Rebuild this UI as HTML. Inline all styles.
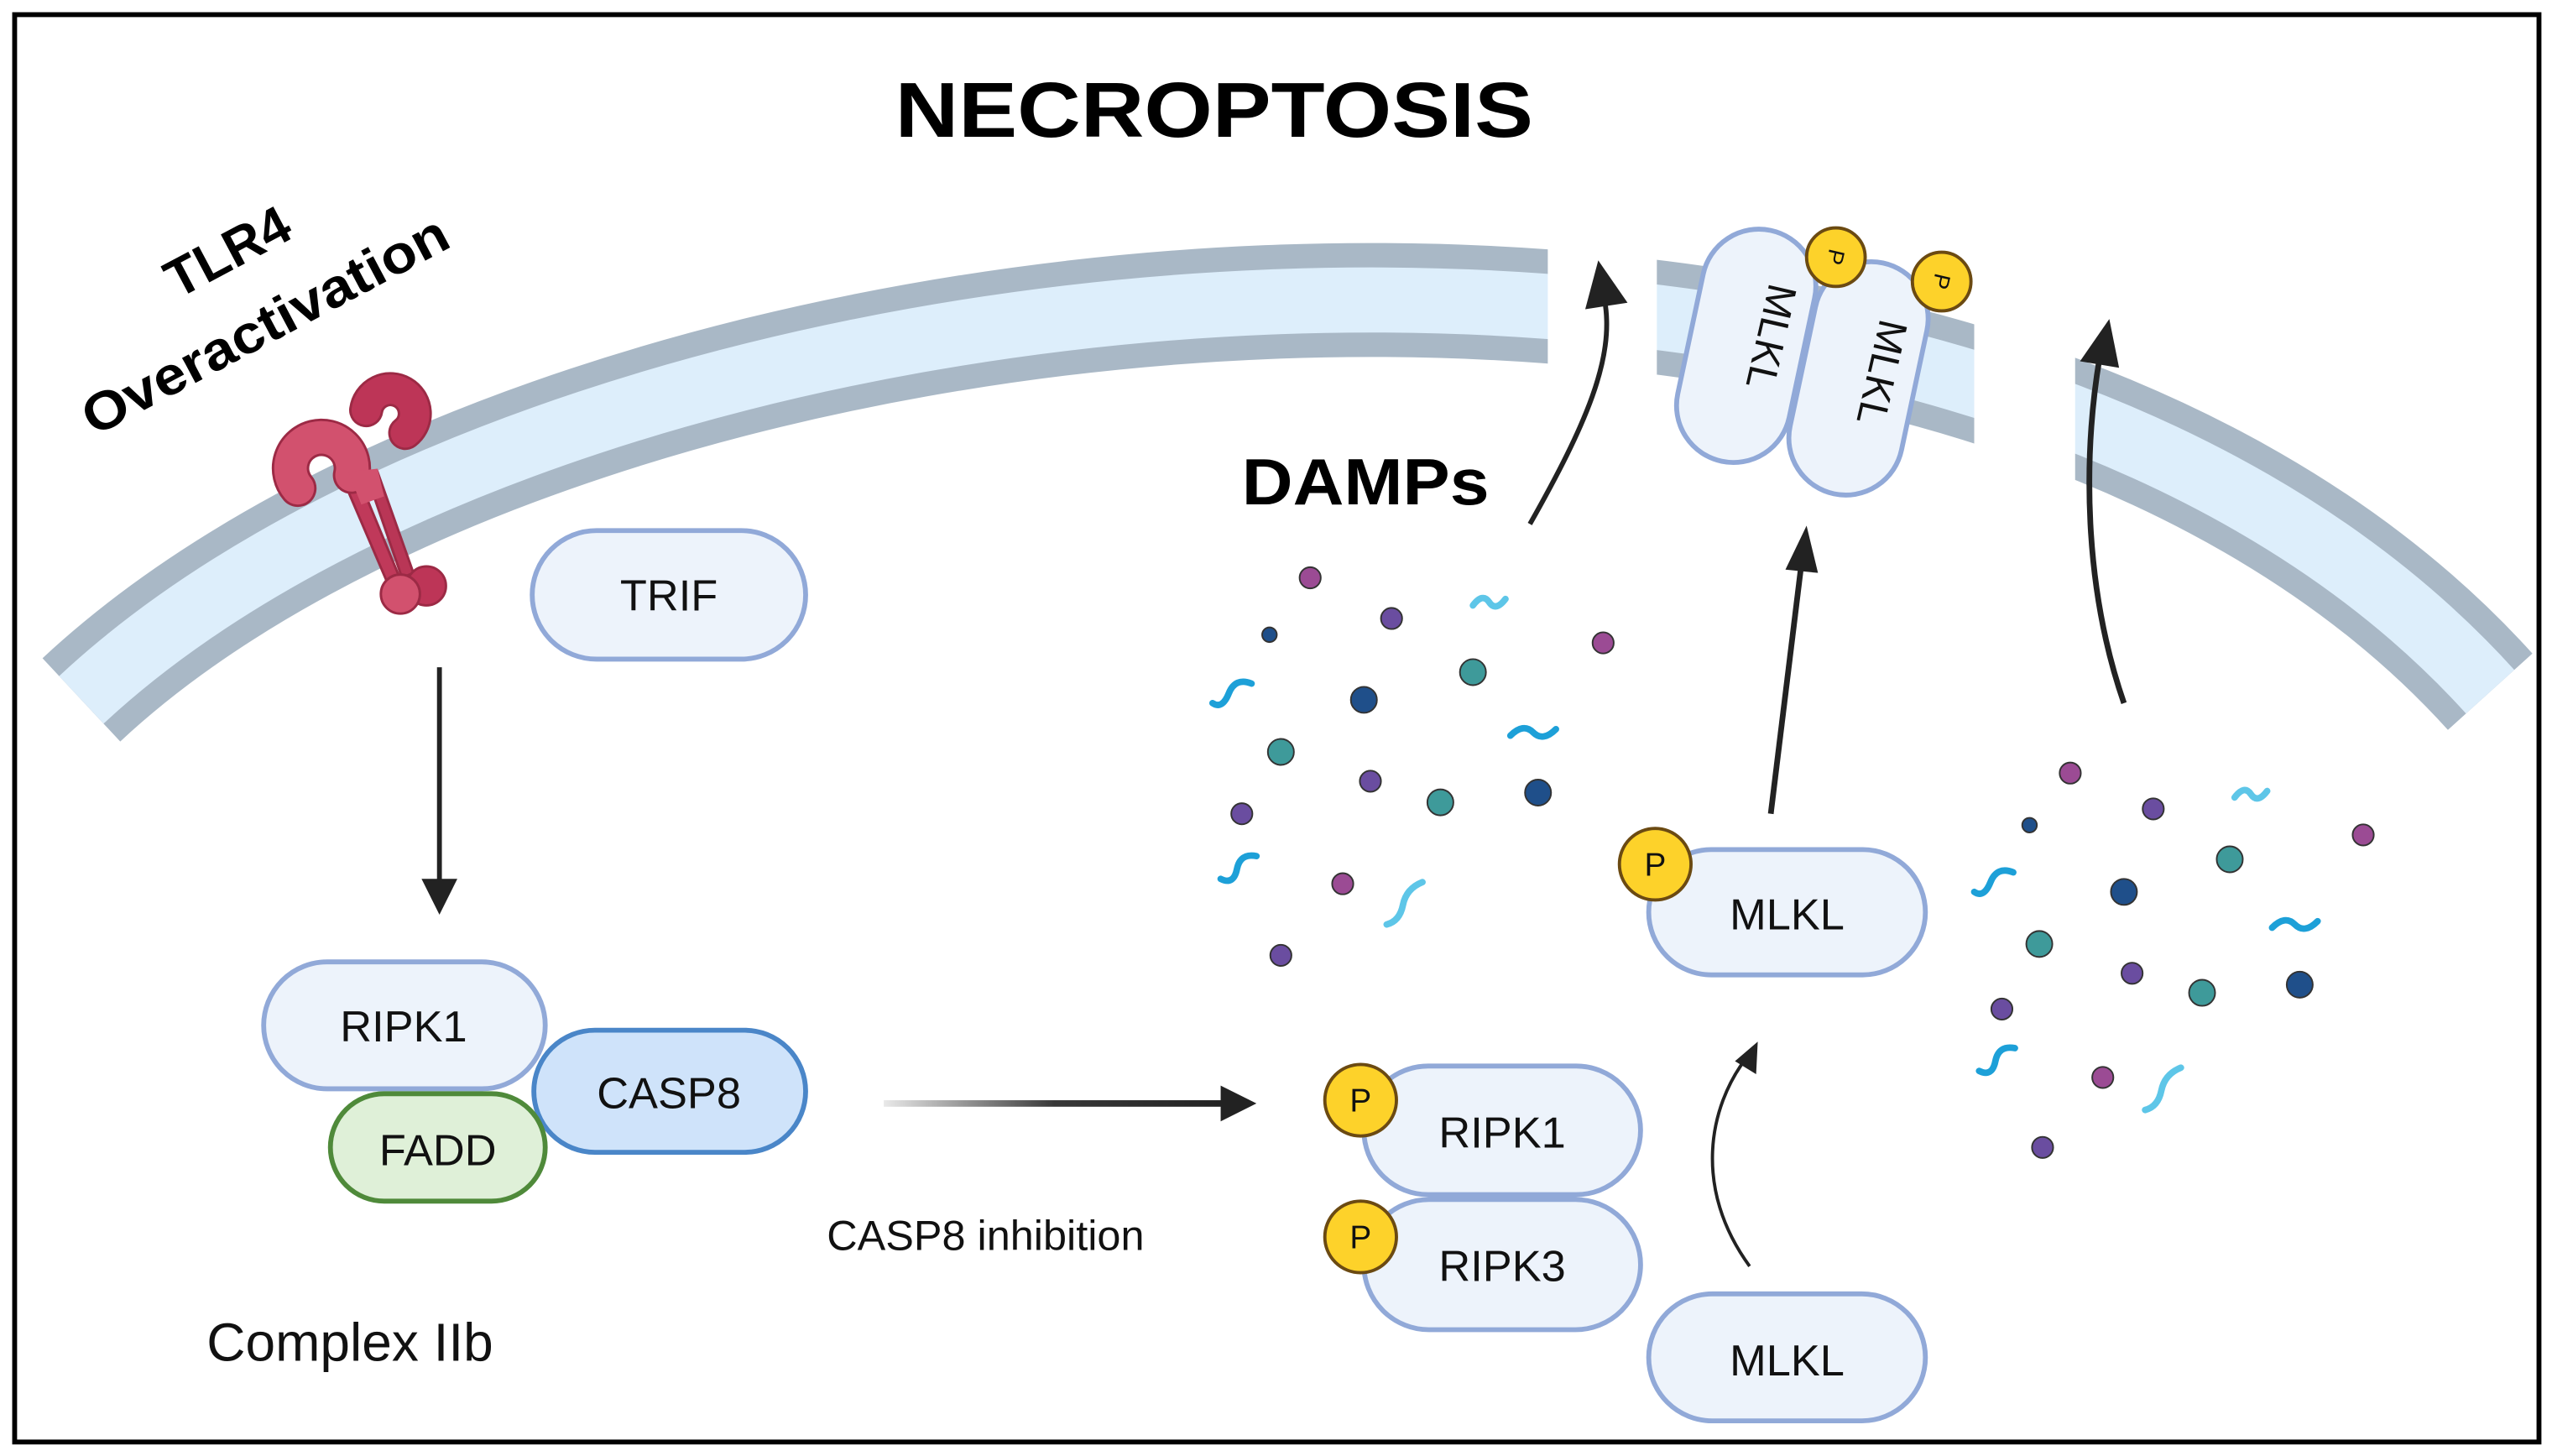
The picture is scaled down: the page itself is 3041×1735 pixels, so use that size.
<!DOCTYPE html>
<html><head><meta charset="utf-8"><style>
html,body{margin:0;padding:0;background:#fff}
svg{display:block}
text{font-family:"Liberation Sans",Arial,sans-serif}
</style></head><body>
<svg width="3041" height="1735" viewBox="0 0 1568 894.6" preserveAspectRatio="none" xmlns="http://www.w3.org/2000/svg">
<defs>
<linearGradient id="hg" x1="0" x2="1" y1="0" y2="0"><stop offset="0" stop-color="#222" stop-opacity="0.1"/><stop offset="0.5" stop-color="#222" stop-opacity="0.9"/><stop offset="1" stop-color="#222"/></linearGradient>
</defs>
<rect x="0" y="0" width="1568" height="894.6" fill="#fff"/>
<rect x="9" y="9" width="1551" height="877" fill="none" stroke="#000" stroke-width="3"/>

<!-- membrane -->
<path d="M50 430 C 350 150, 1200 60, 1530 425" fill="none" stroke="#a9b8c6" stroke-width="70"/>
<path d="M50 430 C 350 150, 1200 60, 1530 425" fill="none" stroke="#ddeefb" stroke-width="40"/>
<rect x="951" y="90" width="67" height="180" fill="#fff"/>
<rect x="1213" y="140" width="62" height="200" fill="#fff"/>

<text x="746" y="84" font-size="48" font-weight="bold" text-anchor="middle" textLength="392" lengthAdjust="spacingAndGlyphs">NECROPTOSIS</text>

<text transform="translate(140 155) rotate(-28)" font-weight="bold" font-size="33" text-anchor="middle" dy="11" textLength="82" lengthAdjust="spacingAndGlyphs">TLR4</text>
<text transform="translate(163 200) rotate(-28)" font-weight="bold" font-size="33" text-anchor="middle" dy="11" textLength="250" lengthAdjust="spacingAndGlyphs">Overactivation</text>

<!-- receptor -->
<g stroke="#9c2a45" stroke-width="1.5">
<path d="M222 298 L246 356 L238 358 L214 302 Z" fill="#c0395a"/>
<path d="M232 290 L254 352 L247 355 L226 294 Z" fill="#b93656"/>
</g>
<path d="M249 266 A 15 15 0 1 0 225 252" fill="none" stroke="#9c2a45" stroke-width="21" stroke-linecap="round"/>
<path d="M249 266 A 15 15 0 1 0 225 252" fill="none" stroke="#bd3557" stroke-width="18" stroke-linecap="round"/>
<path d="M183 300 A 19 19 0 1 1 216 292" fill="none" stroke="#9c2a45" stroke-width="23" stroke-linecap="round"/>
<path d="M183 300 A 19 19 0 1 1 216 292" fill="none" stroke="#d2516e" stroke-width="20" stroke-linecap="round"/>
<path d="M214 290 L232 288 L236 305 L222 310 Z" fill="#d2516e"/>
<g stroke="#9c2a45" stroke-width="1.5">
<circle cx="262" cy="360" r="12" fill="#bd3557"/>
<circle cx="246" cy="365" r="12" fill="#d2516e"/>
</g>

<!-- down arrow -->
<line x1="270" y1="410" x2="270" y2="545" stroke="#222" stroke-width="3"/>
<polygon points="259,540 281,540 270,562" fill="#222"/>

<!-- pills -->
<g stroke-width="3" font-size="27" text-anchor="middle">
<rect x="327" y="326" width="168" height="79" rx="39.5" fill="#edf3fb" stroke="#91a9d8"/>
<text x="411" y="375" fill="#111">TRIF</text>
<rect x="162" y="591" width="173" height="78" rx="39" fill="#edf3fb" stroke="#91a9d8"/>
<text x="248" y="640" fill="#111">RIPK1</text>
<rect x="328" y="633" width="167" height="75" rx="37.5" fill="#cfe3fa" stroke="#4a86c8"/>
<text x="411" y="681" fill="#111">CASP8</text>
<rect x="203" y="672" width="132" height="66" rx="33" fill="#dff0d8" stroke="#4f8a3a"/>
<text x="269" y="716" fill="#111">FADD</text>

<rect x="838" y="655" width="170" height="79" rx="39.5" fill="#edf3fb" stroke="#91a9d8"/>
<text x="923" y="705" fill="#111">RIPK1</text>
<rect x="838" y="737" width="170" height="80" rx="40" fill="#edf3fb" stroke="#91a9d8"/>
<text x="923" y="787" fill="#111">RIPK3</text>
<rect x="1013" y="522" width="170" height="77" rx="38.5" fill="#edf3fb" stroke="#91a9d8"/>
<text x="1098" y="571" fill="#111">MLKL</text>
<rect x="1013" y="795" width="170" height="78" rx="39" fill="#edf3fb" stroke="#91a9d8"/>
<text x="1098" y="845" fill="#111">MLKL</text>
</g>

<!-- P circles -->
<g stroke="#6b4a12" stroke-width="2" fill="#fdd22a">
<circle cx="836" cy="676" r="22"/><circle cx="836" cy="760" r="22"/><circle cx="1017" cy="531" r="22"/>
</g>
<g font-size="20" text-anchor="middle" fill="#111">
<text x="836" y="683">P</text><text x="836" y="767">P</text><text x="1017" y="538">P</text>
</g>

<text x="127" y="836" font-size="33" fill="#111">Complex IIb</text>
<text x="508" y="768" font-size="26" fill="#111">CASP8 inhibition</text>

<!-- horizontal arrow -->
<rect x="543" y="676" width="210" height="4" fill="url(#hg)"/>
<polygon points="750,667 750,689 772,678" fill="#222"/>

<!-- curved small arrow -->
<path d="M1075 778 C 1040 730, 1050 680, 1073 650" fill="none" stroke="#222" stroke-width="2"/>
<polygon points="1066,652 1079,660 1080,640" fill="#222"/>

<!-- MLKL up arrow -->
<line x1="1088" y1="500" x2="1107" y2="345" stroke="#222" stroke-width="3.5"/>
<polygon points="1097,350 1117,352 1110,323" fill="#222"/>

<!-- MLKL dimer -->
<g transform="rotate(12 1073 212)">
<rect x="1038" y="140" width="70" height="145" rx="35" fill="#edf3fb" stroke="#91a9d8" stroke-width="3"/>
</g>
<g transform="rotate(12 1142 232)">
<rect x="1107" y="160" width="70" height="145" rx="35" fill="#edf3fb" stroke="#91a9d8" stroke-width="3"/>
</g>
<text transform="translate(1080 205) rotate(103)" font-size="25" text-anchor="middle" fill="#111">MLKL</text>
<text transform="translate(1148 227) rotate(103)" font-size="25" text-anchor="middle" fill="#111">MLKL</text>
<g stroke="#6b4a12" stroke-width="2" fill="#fdd22a">
<circle cx="1128" cy="158" r="18"/><circle cx="1193" cy="173" r="18"/>
</g>
<text transform="translate(1128 158) rotate(103)" font-size="14" text-anchor="middle" dy="5" fill="#111">P</text>
<text transform="translate(1193 173) rotate(103)" font-size="14" text-anchor="middle" dy="5" fill="#111">P</text>

<!-- big curved arrows -->
<path d="M940 322 C 975 260, 992 220, 986 185" fill="none" stroke="#222" stroke-width="3"/>
<polygon points="974,190 1000,186 982,160" fill="#222"/>
<path d="M1305 432 C 1280 360, 1280 280, 1290 220" fill="none" stroke="#222" stroke-width="3.5"/>
<polygon points="1278,222 1302,226 1296,196" fill="#222"/>

<text x="763" y="310" font-size="40" font-weight="bold" fill="#000" textLength="152" lengthAdjust="spacingAndGlyphs">DAMPs</text>

<!-- particles -->
<g stroke="#333" stroke-width="1">
<g fill="#9b4b94">
<circle cx="805" cy="355" r="6.5"/><circle cx="985" cy="395" r="6.5"/><circle cx="825" cy="543" r="6.5"/>
<circle cx="1272" cy="475" r="6.5"/><circle cx="1452" cy="513" r="6.5"/><circle cx="1292" cy="662" r="6.5"/>
</g>
<g fill="#6a4da0">
<circle cx="855" cy="380" r="6.5"/><circle cx="842" cy="480" r="6.5"/><circle cx="763" cy="500" r="6.5"/><circle cx="787" cy="587" r="6.5"/>
<circle cx="1323" cy="497" r="6.5"/><circle cx="1310" cy="598" r="6.5"/><circle cx="1230" cy="620" r="6.5"/><circle cx="1255" cy="705" r="6.5"/>
</g>
<g fill="#1f4f8a">
<circle cx="780" cy="390" r="4.5"/><circle cx="838" cy="430" r="8"/><circle cx="945" cy="487" r="8"/>
<circle cx="1247" cy="507" r="4.5"/><circle cx="1305" cy="548" r="8"/><circle cx="1413" cy="605" r="8"/>
</g>
<g fill="#3e9a9a">
<circle cx="905" cy="413" r="8"/><circle cx="787" cy="462" r="8"/><circle cx="885" cy="493" r="8"/>
<circle cx="1370" cy="528" r="8"/><circle cx="1253" cy="580" r="8"/><circle cx="1353" cy="610" r="8"/>
</g>
</g>
<g fill="none" stroke-width="4" stroke-linecap="round">
<path d="M905 372 q6 -8 10 -2 q4 6 10 -2" stroke="#5ec6e8"/>
<path d="M745 432 q6 4 10 -6 q4 -10 14 -6" stroke="#1da0d8"/>
<path d="M928 452 q8 -8 14 -2 q6 6 14 -2" stroke="#1da0d8"/>
<path d="M750 540 q8 4 10 -6 q2 -10 12 -8" stroke="#1da0d8"/>
<path d="M852 568 q8 -2 10 -12 q2 -10 12 -14" stroke="#5ec6e8"/>
<path d="M1373 490 q6 -8 10 -2 q4 6 10 -2" stroke="#5ec6e8"/>
<path d="M1213 548 q6 4 10 -6 q4 -10 14 -6" stroke="#1da0d8"/>
<path d="M1396 570 q8 -8 14 -2 q6 6 14 -2" stroke="#1da0d8"/>
<path d="M1216 658 q8 4 10 -6 q2 -10 12 -8" stroke="#1da0d8"/>
<path d="M1318 682 q8 -2 10 -12 q2 -10 12 -14" stroke="#5ec6e8"/>
</g>
</svg>
</body></html>
